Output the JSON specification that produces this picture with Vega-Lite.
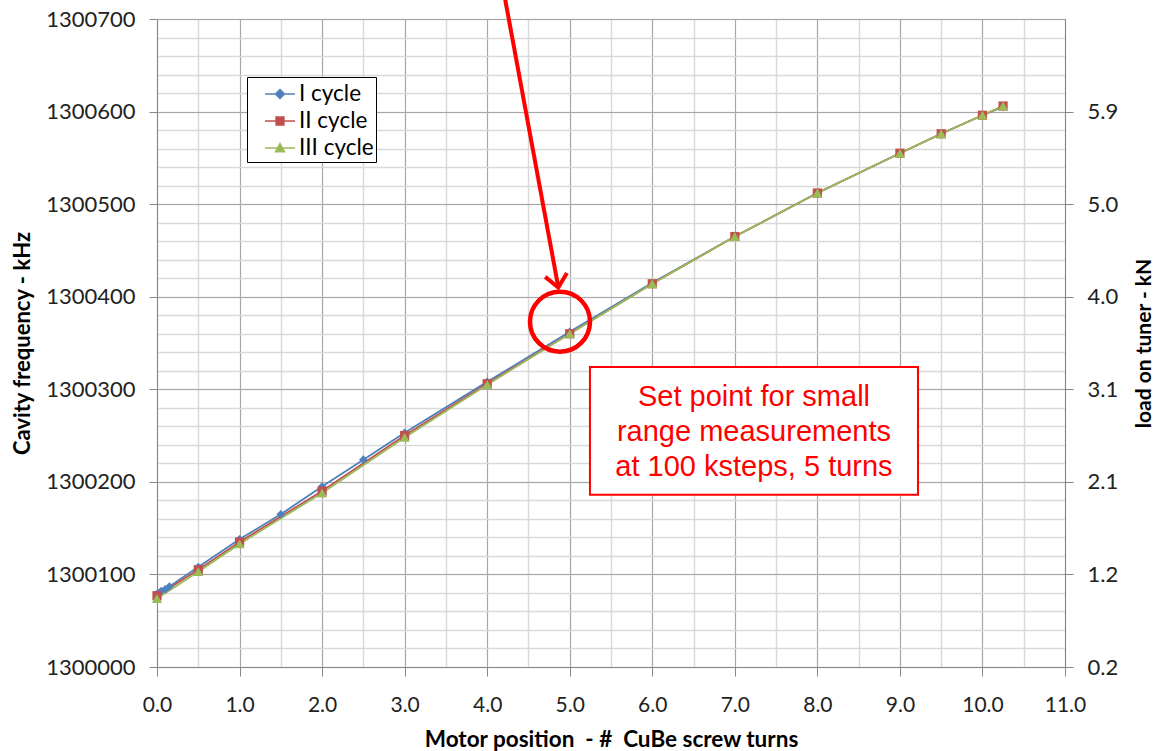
{
  "$schema": "https://vega.github.io/schema/vega-lite/v6.json",
  "width": 908,
  "height": 648,
  "autosize": {"type": "none"},
  "padding": {"left": 157, "top": 19, "right": 91, "bottom": 84},
  "background": "white",
  "config": {
    "view": {"stroke": null},
    "axis": {"labelFont": "Lato", "titleFont": "Lato", "labelColor": "#222222", "titleColor": "#000000", "domainColor": "#868686", "tickColor": "#868686", "labelFlush": false}
  },
  "data": {
    "values": [
      {"cycle": "I cycle", "turns": 0, "freq": 1300079},
      {"cycle": "I cycle", "turns": 0.05, "freq": 1300082},
      {"cycle": "I cycle", "turns": 0.1, "freq": 1300084},
      {"cycle": "I cycle", "turns": 0.15, "freq": 1300087},
      {"cycle": "I cycle", "turns": 0.5, "freq": 1300108},
      {"cycle": "I cycle", "turns": 1.0, "freq": 1300138},
      {"cycle": "I cycle", "turns": 1.5, "freq": 1300165},
      {"cycle": "I cycle", "turns": 2.0, "freq": 1300195},
      {"cycle": "I cycle", "turns": 2.5, "freq": 1300224},
      {"cycle": "I cycle", "turns": 3.0, "freq": 1300253},
      {"cycle": "I cycle", "turns": 4.0, "freq": 1300308},
      {"cycle": "I cycle", "turns": 5.0, "freq": 1300362},
      {"cycle": "I cycle", "turns": 6.0, "freq": 1300415},
      {"cycle": "I cycle", "turns": 7.0, "freq": 1300465},
      {"cycle": "I cycle", "turns": 8.0, "freq": 1300512},
      {"cycle": "I cycle", "turns": 9.0, "freq": 1300555},
      {"cycle": "I cycle", "turns": 9.5, "freq": 1300576},
      {"cycle": "I cycle", "turns": 10.0, "freq": 1300596},
      {"cycle": "I cycle", "turns": 10.25, "freq": 1300605},
      {"cycle": "II cycle", "turns": 0, "freq": 1300077},
      {"cycle": "II cycle", "turns": 0.5, "freq": 1300105},
      {"cycle": "II cycle", "turns": 1.0, "freq": 1300135},
      {"cycle": "II cycle", "turns": 2.0, "freq": 1300190},
      {"cycle": "II cycle", "turns": 3.0, "freq": 1300250},
      {"cycle": "II cycle", "turns": 4.0, "freq": 1300306},
      {"cycle": "II cycle", "turns": 5.0, "freq": 1300360},
      {"cycle": "II cycle", "turns": 6.0, "freq": 1300414},
      {"cycle": "II cycle", "turns": 7.0, "freq": 1300465},
      {"cycle": "II cycle", "turns": 8.0, "freq": 1300512},
      {"cycle": "II cycle", "turns": 9.0, "freq": 1300555},
      {"cycle": "II cycle", "turns": 9.5, "freq": 1300576},
      {"cycle": "II cycle", "turns": 10.0, "freq": 1300596},
      {"cycle": "II cycle", "turns": 10.25, "freq": 1300606},
      {"cycle": "III cycle", "turns": 0, "freq": 1300074},
      {"cycle": "III cycle", "turns": 0.5, "freq": 1300103},
      {"cycle": "III cycle", "turns": 1.0, "freq": 1300133},
      {"cycle": "III cycle", "turns": 2.0, "freq": 1300188},
      {"cycle": "III cycle", "turns": 3.0, "freq": 1300248},
      {"cycle": "III cycle", "turns": 4.0, "freq": 1300305},
      {"cycle": "III cycle", "turns": 5.0, "freq": 1300360},
      {"cycle": "III cycle", "turns": 6.0, "freq": 1300414},
      {"cycle": "III cycle", "turns": 7.0, "freq": 1300465},
      {"cycle": "III cycle", "turns": 8.0, "freq": 1300512},
      {"cycle": "III cycle", "turns": 9.0, "freq": 1300555},
      {"cycle": "III cycle", "turns": 9.5, "freq": 1300576},
      {"cycle": "III cycle", "turns": 10.0, "freq": 1300596},
      {"cycle": "III cycle", "turns": 10.25, "freq": 1300606}
    ]
  },
  "layer": [
    {
      "mark": {"type": "line", "strokeWidth": 1.8},
      "encoding": {
        "x": {"field": "turns", "type": "quantitative", "scale": {"domain": [0, 11], "nice": false, "zero": false},
          "axis": {"orient": "bottom", "values": [0,0.5,1,1.5,2,2.5,3,3.5,4,4.5,5,5.5,6,6.5,7,7.5,8,8.5,9,9.5,10,10.5,11], "grid": true, "gridColor": "#d9d9d9", "gridWidth": 1.5, "labels": false, "ticks": false, "domain": false, "title": null}},
        "y": {"field": "freq", "type": "quantitative", "scale": {"domain": [1300000, 1300700], "nice": false, "zero": false},
          "axis": {"orient": "left", "values": [1300000,1300020,1300040,1300060,1300080,1300100,1300120,1300140,1300160,1300180,1300200,1300220,1300240,1300260,1300280,1300300,1300320,1300340,1300360,1300380,1300400,1300420,1300440,1300460,1300480,1300500,1300520,1300540,1300560,1300580,1300600,1300620,1300640,1300660,1300680,1300700], "grid": true, "gridColor": "#d9d9d9", "gridWidth": 1.5, "labels": false, "ticks": false, "domain": false, "title": null}},
        "color": {"field": "cycle", "type": "nominal", "scale": {"range": ["#4F81BD", "#C0504D", "#9BBB59"]}, "legend": null}
      }
    },
    {
      "transform": [{"filter": "datum.cycle === 'I cycle'"}],
      "mark": {"type": "point", "shape": "diamond", "filled": true, "size": 75, "opacity": 1},
      "encoding": {
        "x": {"field": "turns", "type": "quantitative", "scale": {"domain": [0, 11], "nice": false, "zero": false},
          "axis": {"orient": "bottom", "values": [0,1,2,3,4,5,6,7,8,9,10,11], "format": ".1f", "grid": true, "gridColor": "#a6a6a6", "gridWidth": 1, "tickSize": 9, "labelPadding": 18, "labelFontSize": 21, "title": "Motor position \u00a0- # \u00a0CuBe screw turns", "titleFontSize": 22.5, "titleFontWeight": "bold", "titlePadding": 13}},
        "y": {"field": "freq", "type": "quantitative", "scale": {"domain": [1300000, 1300700], "nice": false, "zero": false},
          "axis": {"orient": "left", "values": [1300000,1300100,1300200,1300300,1300400,1300500,1300600,1300700], "format": "d", "grid": true, "gridColor": "#a6a6a6", "gridWidth": 1, "tickSize": 8, "labelPadding": 14, "labelFontSize": 22, "title": "Cavity frequency - kHz", "titleFontSize": 22, "titleFontWeight": "bold", "titlePadding": 11}},
        "color": {"field": "cycle", "type": "nominal", "scale": {"range": ["#4F81BD", "#C0504D", "#9BBB59"]}, "legend": null}
      }
    },
    {
      "transform": [{"filter": "datum.cycle === 'II cycle'"}],
      "mark": {"type": "point", "shape": "square", "filled": true, "size": 85, "opacity": 1},
      "encoding": {
        "x": {"field": "turns", "type": "quantitative", "scale": {"domain": [0, 11], "nice": false, "zero": false}, "axis": null},
        "y": {"field": "freq", "type": "quantitative", "scale": {"domain": [1300000, 1300700], "nice": false, "zero": false}, "axis": null},
        "color": {"field": "cycle", "type": "nominal", "scale": {"range": ["#4F81BD", "#C0504D", "#9BBB59"]}, "legend": null}
      }
    },
    {
      "transform": [{"filter": "datum.cycle === 'III cycle'"}],
      "mark": {"type": "point", "shape": "triangle-up", "filled": true, "size": 105, "opacity": 1},
      "encoding": {
        "x": {"field": "turns", "type": "quantitative", "scale": {"domain": [0, 11], "nice": false, "zero": false}, "axis": null},
        "y": {"field": "freq", "type": "quantitative", "scale": {"domain": [1300000, 1300700], "nice": false, "zero": false},
          "axis": {"orient": "right", "values": [1300000,1300100,1300200,1300300,1300400,1300500,1300600], "labelExpr": "format(0.2 + (datum.value - 1300000) * 0.0095 + 0.0001, '.1f')", "grid": false, "tickSize": 8, "labelPadding": 14, "labelFontSize": 22, "title": "load on tuner - kN", "titleFontSize": 21, "titleFontWeight": "bold", "titleAngle": 270, "titleBaseline": "top", "titlePadding": 16}},
        "color": {"field": "cycle", "type": "nominal", "scale": {"range": ["#4F81BD", "#C0504D", "#9BBB59"]}, "legend": null}
      }
    },
    {
      "transform": [{"filter": "datum.turns < 0"}],
      "mark": {"type": "point", "filled": true, "strokeWidth": 1.5, "opacity": 1},
      "encoding": {
        "x": {"field": "turns", "type": "quantitative", "scale": {"domain": [0, 11], "nice": false, "zero": false}, "axis": null},
        "y": {"field": "freq", "type": "quantitative", "scale": {"domain": [1300000, 1300700], "nice": false, "zero": false}, "axis": null},
        "fill": {"field": "cycle", "type": "nominal", "scale": {"domain": ["I cycle", "II cycle", "III cycle"], "range": ["#4F81BD", "#C0504D", "#9BBB59"]},
          "legend": {"title": null, "orient": "none", "legendX": 90, "legendY": 58, "fillColor": "white", "strokeColor": "black", "padding": 2, "symbolOffset": 16, "symbolSize": 784, "symbolStrokeWidth": 1.5, "symbolOpacity": 1, "labelFont": "Lato", "labelFontSize": 22.5, "labelColor": "#000000", "labelOffset": 4, "rowPadding": 0, "labelExpr": "datum.label + '\u00a0\u00a0\u00a0'"}},
        "stroke": {"field": "cycle", "type": "nominal", "scale": {"domain": ["I cycle", "II cycle", "III cycle"], "range": ["#4F81BD", "#C0504D", "#9BBB59"]},
          "legend": {"title": null, "orient": "none", "legendX": 90, "legendY": 58, "fillColor": "white", "strokeColor": "black", "padding": 2, "symbolOffset": 16, "symbolSize": 784, "symbolStrokeWidth": 1.5, "symbolOpacity": 1, "labelFont": "Lato", "labelFontSize": 22.5, "labelColor": "#000000", "labelOffset": 4, "rowPadding": 0, "labelExpr": "datum.label + '\u00a0\u00a0\u00a0'"}},
        "shape": {"field": "cycle", "type": "nominal", "scale": {"domain": ["I cycle", "II cycle", "III cycle"], "range": ["M-1.07,0L1.07,0M0,-0.32L0.32,0L0,0.32L-0.32,0Z", "M-1.07,0L1.07,0M-0.28,-0.28L0.28,-0.28L0.28,0.28L-0.28,0.28Z", "M-1.07,0L1.07,0M0,-0.32L0.32,0.26L-0.32,0.26Z"]},
          "legend": {"title": null, "orient": "none", "legendX": 90, "legendY": 58, "fillColor": "white", "strokeColor": "black", "padding": 2, "symbolOffset": 16, "symbolSize": 784, "symbolStrokeWidth": 1.5, "symbolOpacity": 1, "labelFont": "Lato", "labelFontSize": 22.5, "labelColor": "#000000", "labelOffset": 4, "rowPadding": 0, "labelExpr": "datum.label + '\u00a0\u00a0\u00a0'"}}
      }
    },
    {
      "data": {"values": [{}]},
      "mark": {"type": "rect", "fill": "white", "stroke": "#FF0000", "strokeWidth": 2},
      "encoding": {
        "x": {"datum": 5.245, "type": "quantitative", "scale": {"domain": [0, 11], "nice": false, "zero": false}, "axis": null},
        "x2": {"datum": 9.219},
        "y": {"datum": 1300324, "type": "quantitative", "scale": {"domain": [1300000, 1300700], "nice": false, "zero": false}, "axis": null},
        "y2": {"datum": 1300186}
      }
    },
    {
      "data": {"values": [{}]},
      "mark": {"type": "text", "font": "Liberation Sans", "fontSize": 29, "color": "#FF0000", "align": "center", "baseline": "middle", "lineHeight": 35},
      "encoding": {
        "x": {"datum": 7.232, "type": "quantitative", "scale": {"domain": [0, 11], "nice": false, "zero": false}, "axis": null},
        "y": {"datum": 1300292, "type": "quantitative", "scale": {"domain": [1300000, 1300700], "nice": false, "zero": false}, "axis": null},
        "text": {"value": ["Set point for small", "range measurements", "at 100 ksteps, 5 turns"]}
      }
    },
    {
      "data": {"values": [{}]},
      "mark": {"type": "point", "shape": "circle", "filled": false, "size": 3600, "stroke": "#FF0000", "strokeWidth": 4.5, "opacity": 1},
      "encoding": {
        "x": {"datum": 4.882, "type": "quantitative", "scale": {"domain": [0, 11], "nice": false, "zero": false}, "axis": null},
        "y": {"datum": 1300373, "type": "quantitative", "scale": {"domain": [1300000, 1300700], "nice": false, "zero": false}, "axis": null}
      }
    },
    {
      "data": {"values": [{}]},
      "mark": {"type": "rule", "stroke": "#FF0000", "strokeWidth": 4, "clip": false},
      "encoding": {
        "x": {"datum": 4.216, "type": "quantitative", "scale": {"domain": [0, 11], "nice": false, "zero": false}, "axis": null},
        "x2": {"datum": 4.858},
        "y": {"datum": 1300722, "type": "quantitative", "scale": {"domain": [1300000, 1300700], "nice": false, "zero": false}, "axis": null},
        "y2": {"datum": 1300412}
      }
    },
    {
      "data": {"values": [{}]},
      "mark": {"type": "point", "shape": "M-0.7,-0.8L0,0L0.7,-0.8", "filled": false, "size": 1000, "stroke": "#FF0000", "strokeWidth": 4, "angle": 350, "opacity": 1},
      "encoding": {
        "x": {"datum": 4.861, "type": "quantitative", "scale": {"domain": [0, 11], "nice": false, "zero": false}, "axis": null},
        "y": {"datum": 1300410, "type": "quantitative", "scale": {"domain": [1300000, 1300700], "nice": false, "zero": false}, "axis": null}
      }
    }
  ],
  "resolve": {"axis": {"x": "independent", "y": "independent"}}
}
